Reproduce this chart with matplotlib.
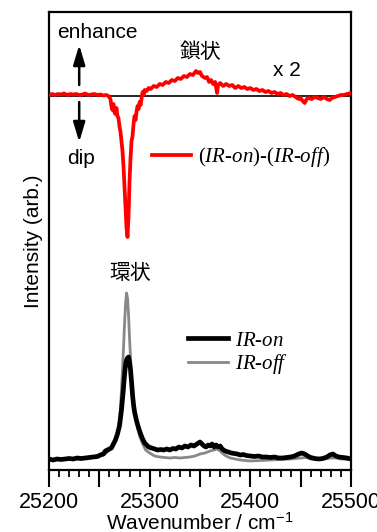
import matplotlib
matplotlib.use("Agg")
import matplotlib.pyplot as plt
from matplotlib.ticker import MultipleLocator, FuncFormatter

plt.rcParams['font.family'] = ['Liberation Sans', 'Noto Sans CJK JP']
plt.rcParams['mathtext.fontset'] = 'custom'
plt.rcParams['mathtext.it'] = 'Liberation Serif:italic'
plt.rcParams['mathtext.rm'] = 'Liberation Serif'
plt.rcParams['mathtext.default'] = 'regular'

# ---- data (intensity in arbitrary units) ----
diff_wn = [25200, 25203, 25206, 25209, 25212, 25215, 25218, 25221, 25224, 25227, 25230, 25233,
           25236, 25239, 25242, 25245, 25248, 25251, 25254, 25257, 25259, 25261, 25262, 25263,
           25264, 25265, 25266, 25267, 25268, 25269, 25270, 25271, 25272, 25273, 25274, 25275,
           25276, 25277, 25278, 25279, 25280, 25281, 25282, 25283, 25284, 25285, 25286, 25287,
           25288, 25289, 25290, 25291, 25292, 25293, 25294, 25295, 25297, 25299, 25301, 25304,
           25307, 25310, 25313, 25316, 25319, 25322, 25325, 25328, 25331, 25334, 25337, 25340,
           25343, 25346, 25348, 25350, 25352, 25355, 25357, 25359, 25361, 25363, 25365, 25367,
           25368, 25370, 25373, 25376, 25379, 25382, 25385, 25388, 25391, 25394, 25397, 25400,
           25403, 25406, 25409, 25412, 25415, 25418, 25421, 25424, 25427, 25430, 25433, 25436,
           25439, 25442, 25445, 25448, 25450, 25452, 25454, 25456, 25458, 25461, 25464, 25467,
           25470, 25473, 25476, 25479, 25481, 25484, 25487, 25490, 25493, 25496, 25500]
diff_val = [1, 2, 1, 2, 1.5, 2.5, 1, 2, 1.5, 2, 1, 1.5,
            2.5, 1, 1.5, 2, 1, 1.5, 0.5, 1, 0, -3, -10, -14,
            -8, -16, -18, -12, -20, -22, -30, -36, -45, -55, -70, -90,
            -112, -132, -141, -120, -85, -62, -45, -40, -28, -20, -24, -15,
            -10, -13, -6, -9, -2, 4, 1, 6, 5, 8, 7, 10,
            9, 12, 11, 14, 13, 16, 15, 18, 17, 20, 19, 22,
            21, 25, 23, 24, 20, 18, 19, 14, 16, 12, 14, 3,
            11, 13, 10, 12, 10, 11, 8, 10, 8, 9, 7, 8,
            6, 7, 5, 6, 4, 5, 3, 4, 2, 3, 1, 2,
            0, 1, -1, -3, -2, -5, -7, -3, -2, -3, -1, -2,
            -3, -1, -3, -4, -2, -1, 0, 1, 1, 2, 3]
diff_offset = 374

on_wn = [25200, 25204, 25208, 25212, 25216, 25220, 25224, 25228, 25232, 25236, 25240, 25244,
         25248, 25251, 25254, 25256, 25258, 25260, 25262, 25264, 25266, 25268, 25270, 25272,
         25274, 25275, 25276, 25277, 25278, 25279, 25280, 25281, 25282, 25283, 25284, 25285,
         25287, 25289, 25291, 25293, 25295, 25297, 25299, 25302, 25305, 25308, 25311, 25314,
         25317, 25320, 25323, 25326, 25329, 25332, 25335, 25338, 25341, 25344, 25347, 25350,
         25352, 25354, 25356, 25358, 25360, 25362, 25364, 25366, 25368, 25370, 25372, 25375,
         25378, 25381, 25384, 25387, 25390, 25393, 25396, 25400, 25404, 25408, 25412, 25416,
         25420, 25424, 25428, 25432, 25436, 25440, 25444, 25448, 25451, 25454, 25457, 25460,
         25464, 25468, 25472, 25476, 25479, 25482, 25485, 25488, 25492, 25496, 25500]
on_val = [11, 10, 11, 10.5, 11, 11.5, 11, 12, 11.5, 12, 12.5, 13,
          13.5, 15, 16, 19, 20, 21, 22, 26, 30, 36, 44, 60,
          82, 95, 105, 110, 112, 113, 108, 100, 88, 75, 65, 58,
          49, 42, 36, 31, 27, 25, 23, 22, 21, 20, 20.5, 20,
          21, 20, 21.5, 21, 23, 22, 24, 23, 25, 24, 26, 28,
          26, 24, 23, 25, 24, 26, 23, 25, 23, 24, 21, 19,
          18, 17, 16.5, 16, 15, 15.5, 14.5, 14, 13.5, 14, 13, 13,
          12.5, 13, 12, 12, 12.5, 13, 14, 16, 17, 16, 14, 12.5,
          11.5, 11, 11.5, 13, 15, 16, 14, 13, 12.5, 12, 11]

off_wn = [25200, 25210, 25220, 25230, 25240, 25248, 25254, 25258, 25262, 25265, 25267, 25269,
          25270, 25271, 25272, 25273, 25274, 25275, 25276, 25277, 25278, 25279, 25280, 25281,
          25282, 25283, 25284, 25286, 25288, 25290, 25293, 25296, 25300, 25305, 25310, 25315,
          25320, 25325, 25330, 25335, 25340, 25345, 25350, 25355, 25360, 25364, 25367, 25370,
          25373, 25376, 25380, 25385, 25390, 25395, 25400, 25410, 25420, 25430, 25440, 25450,
          25455, 25460, 25470, 25480, 25485, 25490, 25500]
off_val = [10, 10.5, 11, 11, 12, 13, 15, 18, 22, 27, 33, 42,
           50, 62, 80, 100, 122, 145, 165, 177, 172, 155, 132, 112,
           92, 78, 68, 52, 42, 34, 26, 20, 17, 14, 13, 12.5,
           12, 12.5, 12, 12.5, 13, 14, 16, 17, 19, 20, 21, 19,
           16, 14, 12, 11, 10, 9.5, 9, 9.5, 10, 10.5, 11, 12,
           12.5, 11, 10.5, 12, 12, 11, 10.5]

labels_series = [r'($\mathit{IR}$-$\mathit{on}$)-($\mathit{IR}$-$\mathit{off}$)',
                 r'$\mathit{IR}$-$\mathit{on}$', r'$\mathit{IR}$-$\mathit{off}$']

fig = plt.figure(figsize=(3.77, 5.32), dpi=100)
ax = fig.add_axes([49/377, 1-470/532, 302/377, 458/532])

ax.axhline(diff_offset, color='black', lw=1.2, zorder=1)
red, = ax.plot(diff_wn, [diff_offset + v for v in diff_val], color='#ff0000', lw=2.7, zorder=3)
gray, = ax.plot(off_wn, off_val, color='#888888', lw=2.0, zorder=2)
blk, = ax.plot(on_wn, on_val, color='black', lw=3.4, zorder=3)

ax.set_xlim(25200, 25500)
ax.set_ylim(0, 458)
ax.set_yticks([])
ax.xaxis.set_major_locator(MultipleLocator(50))
ax.xaxis.set_minor_locator(MultipleLocator(10))
ax.xaxis.set_major_formatter(FuncFormatter(lambda v, p: f"{int(v)}" if int(round(v)) % 100 == 0 else ""))
ax.tick_params(axis='x', which='major', length=12, width=1.5, direction='out', labelsize=15.5, pad=4)
ax.tick_params(axis='x', which='minor', length=5, width=1.3, direction='out')
for s in ax.spines.values():
    s.set_linewidth(1.6)

ax.set_xlabel('Wavenumber / cm$^{-1}$', fontsize=15, labelpad=-1)
ax.set_ylabel('Intensity (arb.)', fontsize=15, labelpad=4)

# annotations
ax.text(25248, 438, 'enhance', fontsize=15, ha='center', va='center')
ax.text(25232, 312, 'dip', fontsize=15, ha='center', va='center')
arrow_kw = dict(arrowstyle='-|>,head_length=1.2,head_width=0.36', color='black', lw=1.8,
                shrinkA=0, shrinkB=0)
ax.annotate('', xy=(25230, 425), xytext=(25230, 385), arrowprops=arrow_kw)
ax.annotate('', xy=(25230, 328), xytext=(25230, 368), arrowprops=arrow_kw)
ax.text(25350, 418, '鎖状', fontsize=15, ha='center', va='center', family=['Noto Sans CJK JP'])
ax.text(25436, 400, 'x 2', fontsize=15, ha='center', va='center')
ax.text(25281, 197, '環状', fontsize=15, ha='center', va='center', family=['Noto Sans CJK JP'])

serif = dict(family='Liberation Serif', size=15)
leg1 = ax.legend([red], [labels_series[0]], loc='center left', bbox_to_anchor=((152-49)/302, (470-157)/458),
                 frameon=False, borderpad=0, borderaxespad=0, handlelength=1.85, handletextpad=0.35,
                 prop=serif)
ax.add_artist(leg1)
leg2 = ax.legend([blk, gray], labels_series[1:], loc='center left', bbox_to_anchor=((188-49)/302, (470-353.5)/458),
                 frameon=False, borderpad=0, borderaxespad=0, handlelength=1.9, handletextpad=0.35,
                 labelspacing=0.05, prop=serif)

fig.savefig('out.png', dpi=100)
